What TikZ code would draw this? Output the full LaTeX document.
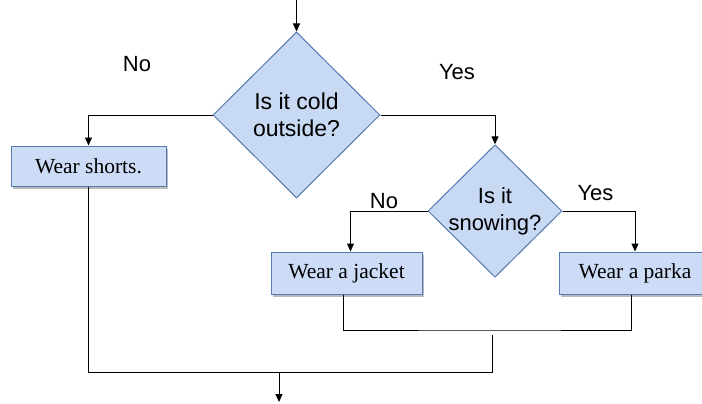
\documentclass[tikz,border=0pt]{standalone}
\usepackage{fontspec}
\setmainfont{Liberation Serif}
\newfontfamily\labelfont{Liberation Sans}
\usetikzlibrary{shapes.geometric,arrows.meta,shadows}
\definecolor{boxfill}{HTML}{CCDCF6}
\definecolor{boxline}{HTML}{5679B0}
\definecolor{dfill}{HTML}{C8D9F4}
\tikzset{
  conn/.style={line width=1pt, black},
  arr/.style={conn, -{Triangle[length=8pt,width=7pt]}},
  actbox/.style={rectangle, draw=boxline, fill=boxfill, line width=1pt,
    inner sep=0pt, font=\fontsize{21.5}{24}\selectfont,
    drop shadow={shadow xshift=1.5pt, shadow yshift=-2.5pt, fill=black!45, opacity=0.6}},
  decide/.style={diamond, aspect=1, draw=boxline, fill=dfill, line width=1pt,
    inner sep=0pt, align=center,
    font=\labelfont\fontsize{23}{27}\selectfont},
  lbl/.style={anchor=base, font=\labelfont\fontsize{22}{26}\selectfont, inner sep=0pt}
}
\begin{document}
\begin{tikzpicture}[x=1pt,y=-1pt]
\useasboundingbox (0,0) rectangle (702,404);
% decisions
\node[decide, minimum width=167pt, minimum height=166pt] (d1) at (296.5,115) {Is it cold\\outside?};
\node[decide, minimum width=134pt, minimum height=132pt,
  font=\labelfont\fontsize{22}{27}\selectfont, inner xsep=-4pt] (d2) at (495,211) {Is it\\snowing?};
% actions
\node[actbox, minimum width=155pt, minimum height=40pt] (shorts) at (88.5,166) {Wear shorts.};
\node[actbox, minimum width=151pt, minimum height=42pt] (jacket) at (346.5,273) {Wear a jacket};
\node[actbox, minimum width=152pt, minimum height=42pt] (parka) at (635,273) {Wear a parka};
% labels
\node[lbl] (no1) at (137,72) {No};
\node[lbl] (yes1) at (457,80) {Yes};
\node[lbl] (no2) at (384,208) {No};
\node[lbl] (yes2) at (595.5,200) {Yes};
% coordinates
\coordinate (start) at (296.5,0);
\coordinate (br) at (492,330);
\coordinate (m0) at (492,335);
\coordinate (m1) at (492,372);
\coordinate (out1) at (279,372);
\coordinate (out2) at (279,402);
% connectors
\draw[arr] (start) -- (d1.north);
\draw[arr] (d1.west) -| (shorts.north);
\draw[arr] (d1.east) -| (d2.north);
\draw[arr] (d2.west) -| ([xshift=4pt]jacket.north);
\draw[arr] (d2.east) -| (parka.north);
\draw[conn] ([xshift=-3.5pt]jacket.south) |- (br) -| ([xshift=-4pt]parka.south);
\draw[conn] (shorts.south) |- (m1) -- (m0);
\draw[arr] (out1) -- (out2);
\end{tikzpicture}
\end{document}
